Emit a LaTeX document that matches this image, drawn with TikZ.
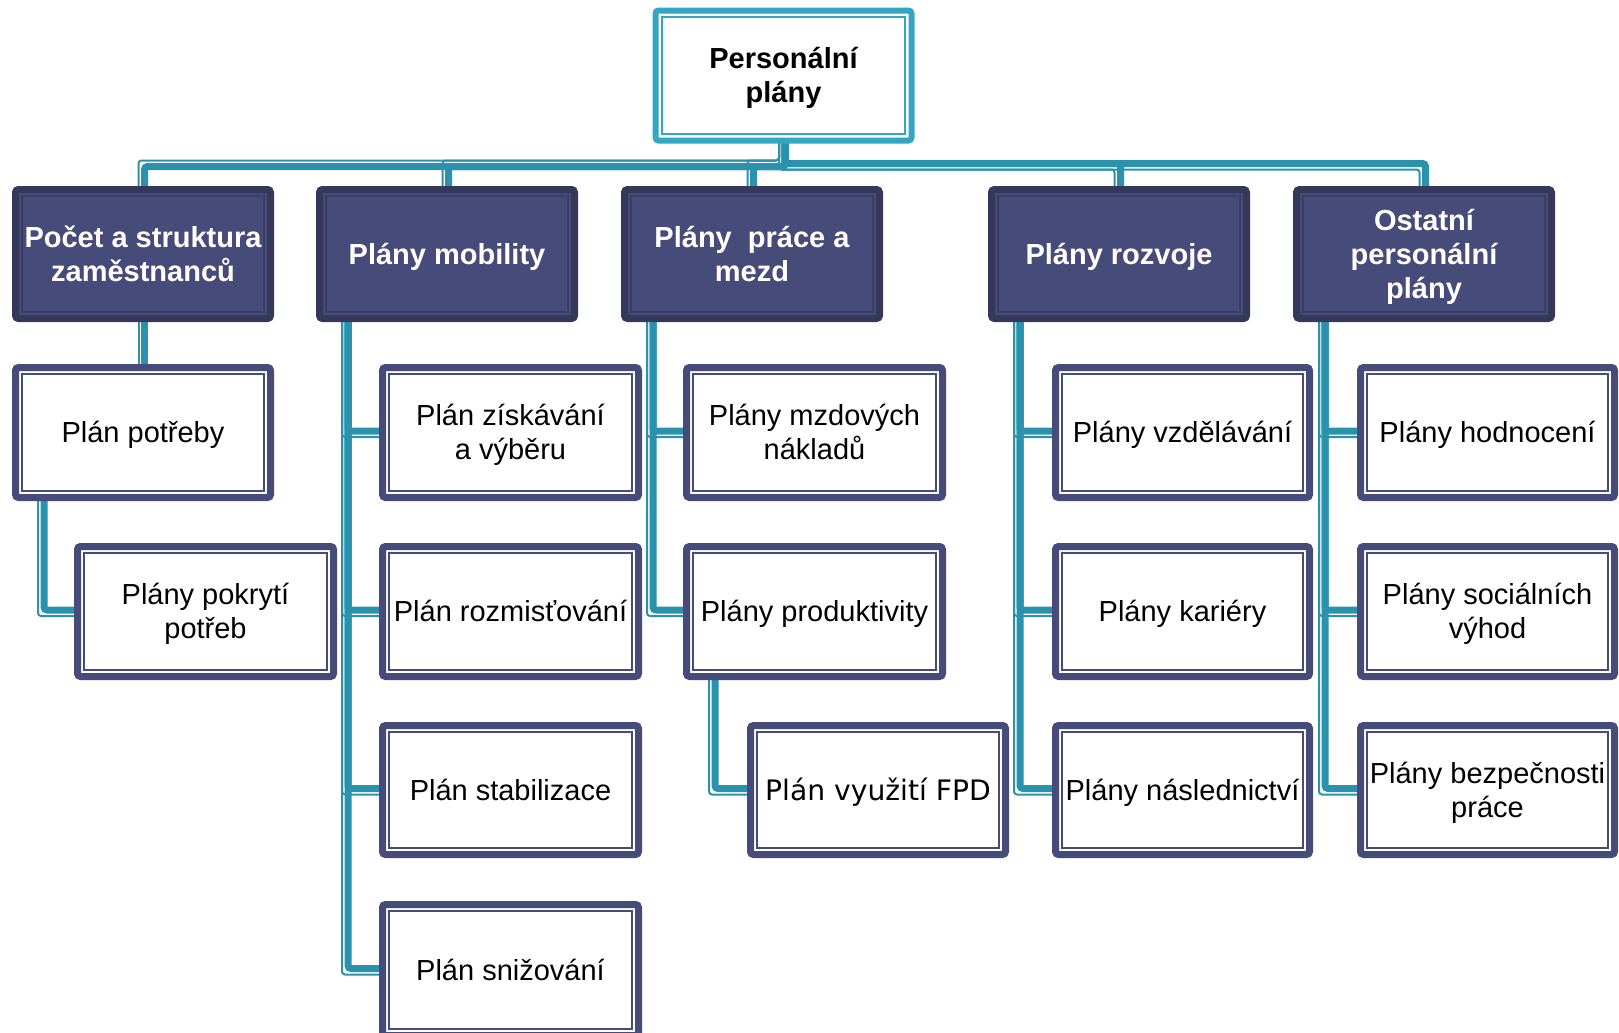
\documentclass[tikz,border=0pt]{standalone}
\usepackage{fontspec}
\setmainfont{Liberation Sans}
\newfontfamily\dejavu{DejaVu Sans}
\usetikzlibrary{calc,backgrounds}
\definecolor{teal1}{HTML}{2A92AD}
\definecolor{tealbox}{HTML}{33A6C3}
\definecolor{navy}{HTML}{474B79}
\definecolor{navydark}{HTML}{35375B}
\definecolor{navyline}{HTML}{3A3D64}
\newcommand\st{\rule[-3.07pt]{0pt}{16.19pt}}
\tikzset{
 every node/.style={inner sep=0pt, outer sep=0pt},
 topbox/.style={draw=tealbox, fill=white, line width=3pt, rounded corners=1.5pt, align=center, font=\bfseries\fontsize{14.5}{17}\selectfont},
 hdrbox/.style={draw=navydark, fill=navy, line width=3.5pt, rounded corners=1.5pt, align=center, text=white, font=\bfseries\fontsize{14.5}{17}\selectfont},
 kidbox/.style={draw=navy, fill=white, line width=3.5pt, rounded corners=1.5pt, align=center, font=\fontsize{14.5}{17}\selectfont},
 tealin/.style={draw=tealbox, line width=0.8pt},
 hdrin/.style={draw=navyline, line width=1.1pt},
 kidin/.style={draw=navy, line width=0.8pt},
 cthin/.style={draw=teal1, line width=1pt, rounded corners=1.5pt},
 cthick/.style={draw=teal1, line width=3.5pt, rounded corners=1.5pt},
}
% #1 box style, #2 inner style, #3 name, #4 x1, #5 y1, #6 x2, #7 y2, #8 text
\newcommand\mybox[8]{%
 \node[#1, minimum width={(#6-#4-7)*0.5pt}, minimum height={(#7-#5-7)*0.5pt}] (#3) at ({(#4+#6)/2},{(#5+#7)/2}) {#8};
 \draw[#2] ({#4+10},{#5+10}) rectangle ({#6-10},{#7-10});
}
% top-level connector: parent, child, side (-1 left, +1 right)
\newcommand\topconn[3]{%
 \draw[cthick, transform canvas={shift={(1.5,{-1.5*(#3)})}}] (#1.center) -- (#1.center |- bus) -| (#2.center);
 \draw[cthin, transform canvas={shift={(-4.5,{4.5*(#3)})}}] (#1.center) -- (#1.center |- bus) -| (#2.center);
}
% column connector: parent, child
\newcommand\colconn[2]{%
 \draw[cthick, transform canvas={shift={(1.5,-1.5)}}] ($(#1.south west)+(27,-20)$) |- (#2.center);
 \draw[cthin, transform canvas={shift={(-4.5,4.5)}}] ($(#1.south west)+(27,-20)$) |- (#2.center);
}
\begin{document}
\begin{tikzpicture}[x=0.5pt,y=-0.5pt]
\useasboundingbox (0,0) rectangle (1619,1033);
\clip (0,0) rectangle (1619,1033);
\coordinate (bus) at (0,165);

\mybox{topbox}{tealin}{top}{652}{7}{915}{144}{\st Personální\\\st plány}

\mybox{hdrbox}{hdrin}{h1}{12}{186}{274}{322}{\st Počet a struktura\\\st zaměstnanců}
\mybox{hdrbox}{hdrin}{h2}{316}{186}{578}{322}{\st Plány mobility}
\mybox{hdrbox}{hdrin}{h3}{621}{186}{883}{322}{\st Plány\ \ práce a\\\st mezd}
\mybox{hdrbox}{hdrin}{h4}{988}{186}{1250}{322}{\st Plány rozvoje}
\mybox{hdrbox}{hdrin}{h5}{1293}{186}{1555}{322}{\st Ostatní\\\st personální\\\st plány}

\mybox{kidbox}{kidin}{k1a}{12}{364}{274}{501}{\st Plán potřeby}
\mybox{kidbox}{kidin}{k1b}{74}{543}{337}{680}{\st Plány pokrytí\\\st potřeb}

\mybox{kidbox}{kidin}{k2a}{379}{364}{642}{501}{\st Plán získávání\\\st a výběru}
\mybox{kidbox}{kidin}{k2b}{379}{543}{642}{680}{\st Plán rozmisťování}
\mybox{kidbox}{kidin}{k2c}{379}{722}{642}{858}{\st Plán stabilizace}
\mybox{kidbox}{kidin}{k2d}{379}{901}{642}{1039}{\st Plán snižování}

\mybox{kidbox}{kidin}{k3a}{683}{364}{946}{501}{\st Plány mzdových\\\st nákladů}
\mybox{kidbox}{kidin}{k3b}{683}{543}{946}{680}{\st Plány produktivity}
\mybox{kidbox}{kidin}{k3c}{747}{722}{1009}{858}{{\dejavu\fontsize{14.1}{17}\selectfont\st Plán využití FPD}}

\mybox{kidbox}{kidin}{k4a}{1052}{364}{1313}{501}{\st Plány vzdělávání}
\mybox{kidbox}{kidin}{k4b}{1052}{543}{1313}{680}{\st Plány kariéry}
\mybox{kidbox}{kidin}{k4c}{1052}{722}{1313}{858}{\st Plány následnictví}

\mybox{kidbox}{kidin}{k5a}{1357}{364}{1618}{501}{\st Plány hodnocení}
\mybox{kidbox}{kidin}{k5b}{1357}{543}{1618}{680}{\st Plány sociálních\\\st výhod}
\mybox{kidbox}{kidin}{k5c}{1357}{722}{1618}{858}{\st Plány bezpečnosti\\\st práce}

\begin{pgfonlayer}{background}
\topconn{top}{h1}{-1}
\topconn{top}{h2}{-1}
\topconn{top}{h3}{-1}
\topconn{top}{h4}{1}
\topconn{top}{h5}{1}
\draw[cthick, transform canvas={shift={(1.5,0)}}] (h1.center) -- (k1a.center);
\draw[cthin, transform canvas={shift={(-4.5,0)}}] (h1.center) -- (k1a.center);
\colconn{k1a}{k1b}
\colconn{h2}{k2a}
\colconn{h2}{k2b}
\colconn{h2}{k2c}
\colconn{h2}{k2d}
\colconn{h3}{k3a}
\colconn{h3}{k3b}
\colconn{k3b}{k3c}
\colconn{h4}{k4a}
\colconn{h4}{k4b}
\colconn{h4}{k4c}
\colconn{h5}{k5a}
\colconn{h5}{k5b}
\colconn{h5}{k5c}
\end{pgfonlayer}
\end{tikzpicture}
\end{document}
